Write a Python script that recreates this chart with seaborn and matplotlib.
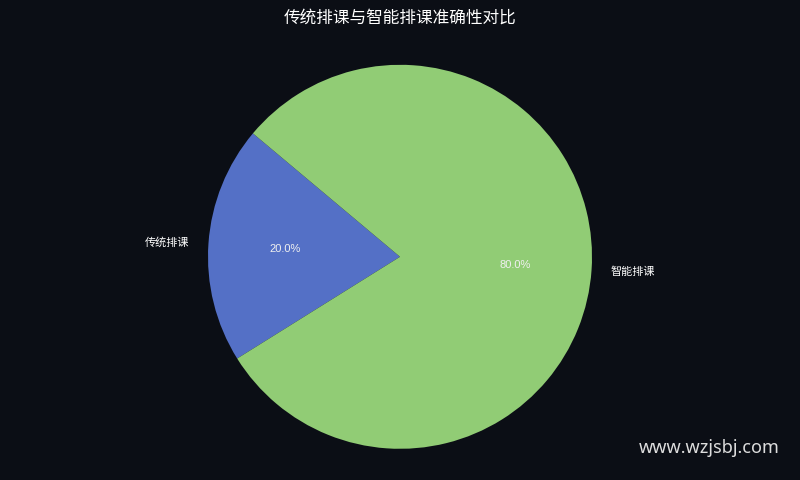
import matplotlib
matplotlib.use("Agg")
import matplotlib.pyplot as plt
import seaborn as sns

# data
categories = ["传统排课", "智能排课"]
shares = [20, 80]
colors = ["#5470c6", "#91cc75"]

sns.set_theme(style="dark")
plt.rcParams['font.family'] = ['Liberation Sans', 'Noto Sans CJK SC', 'DejaVu Sans']

bg = "#0b0e15"
fig = plt.figure(figsize=(8, 4.8), dpi=100, facecolor=bg)
ax = fig.add_axes([0.1, 0.065, 0.8, 0.8])
ax.set_facecolor(bg)

wedges, texts, autotexts = ax.pie(
    shares, labels=categories, colors=colors, autopct='%1.1f%%',
    startangle=140, wedgeprops={'linewidth': 0, 'edgecolor': 'none'},
    textprops={'color': 'white', 'fontsize': 8})
for t in autotexts:
    t.set_fontsize(8)
    t.set_color('#f0f0f0')
ax.set_aspect('equal')
ax.set_xlim(-1, 1)
ax.set_ylim(-1, 1)
ax.axis('off')

fig.text(0.5, 0.962, "传统排课与智能排课准确性对比", color='white',
         fontsize=12, ha='center', va='center')
fig.text(0.975, 0.067, "www.wzjsbj.com", color='#dddddd',
         fontsize=13, ha='right', va='center', family='Noto Sans')

fig.savefig("out.png", dpi=100, facecolor=bg)
